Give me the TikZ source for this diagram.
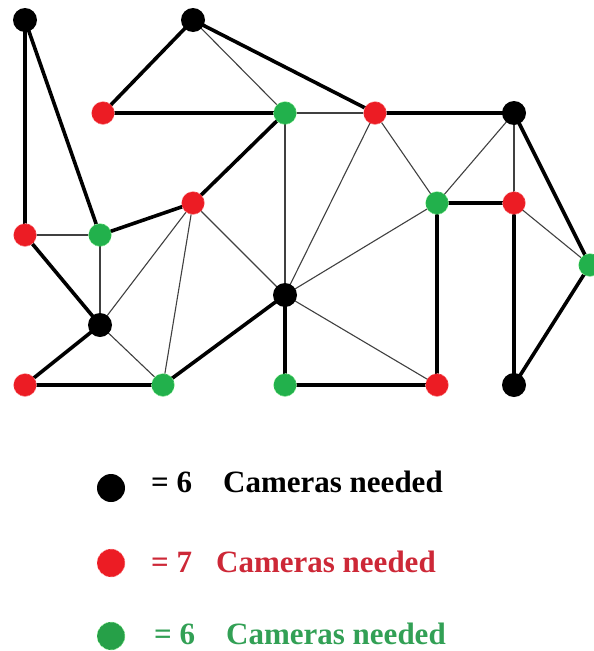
\documentclass[tikz,border=0pt]{standalone}
\usepackage{fontspec}
\setmainfont{Liberation Serif}
\begin{document}
\begin{tikzpicture}[x=1pt,y=-1pt,
  thickedge/.style={line width=3.6pt,black},
  thinedge/.style={line width=1.1pt,black!75},
  vb/.style={circle,fill=black,minimum size=24pt,inner sep=0pt},
  vr/.style={circle,fill=red!90!black,draw=white!70!red,densely dashed,line width=0.5pt,minimum size=23pt,inner sep=0pt},
  vg/.style={circle,fill=green!60!black!90!white,draw=white!70!green,densely dashed,line width=0.5pt,minimum size=23pt,inner sep=0pt},
  legtext/.style={font=\fontsize{31}{31}\selectfont\bfseries,anchor=base west,inner sep=0pt}]
\definecolor{myred}{RGB}{236,28,36}
\definecolor{mygreen}{RGB}{34,177,76}
\definecolor{legreen}{RGB}{38,160,72}
\definecolor{txtred}{RGB}{205,40,55}
\definecolor{txtgreen}{RGB}{50,160,85}
\useasboundingbox (0,0) rectangle (594,651);
% coordinates
\coordinate (B1) at (25,20);
\coordinate (B2) at (193,20);
\coordinate (B3) at (514,113);
\coordinate (B4) at (100,325);
\coordinate (B5) at (285,295);
\coordinate (B6) at (514,385);
\coordinate (R1) at (103,113);
\coordinate (R2) at (375,113);
\coordinate (R3) at (193,203);
\coordinate (R4) at (25,235);
\coordinate (R5) at (514,203);
\coordinate (R6) at (25,385);
\coordinate (R7) at (437,385);
\coordinate (G1) at (285,113);
\coordinate (G2) at (100,235);
\coordinate (G3) at (437,203);
\coordinate (G4) at (590,265);
\coordinate (G5) at (163,385);
\coordinate (G6) at (285,385);
% thin edges
\foreach \a/\b in {B2/G1,G1/R2,G1/B5,R2/B5,R2/G3,G3/B3,B3/R5,R5/G4,G3/B5,B5/R7,R3/B5,R3/B4,R3/G5,G2/B4,R4/G2,B4/G5}
  \draw[thinedge] (\a) -- (\b);
% thick edges
\foreach \a/\b in {B1/R4,B1/G2,B2/R1,B2/R2,R1/G1,G1/R3,R3/G2,R4/B4,B4/R6,R6/G5,G5/B5,B5/G6,G6/R7,G3/R7,G3/R5,R2/B3,B3/G4,G4/B6,R5/B6}
  \draw[thickedge] (\a) -- (\b);
% vertices
\foreach \n in {B1,B2,B3,B4,B5,B6} \node[vb] (n\n) at (\n) {};
\foreach \n in {R1,R2,R3,R4,R5,R6,R7} \node[vr,fill=myred] (n\n) at (\n) {};
\foreach \n in {G1,G2,G3,G4,G5,G6} \node[vg,fill=mygreen] (n\n) at (\n) {};
% legend
\node[vb,minimum size=28pt] (lb) at (111,488) {};
\node[vr,fill=myred,minimum size=28pt] (lr) at (111,563) {};
\node[vg,fill=legreen,minimum size=28pt] (lg) at (111,636) {};
\node[legtext] (eb) at (151,492) {= 6};
\node[legtext] (tb) at (223,492) {Cameras needed};
\node[legtext,text=txtred] (er) at (151,572) {= 7};
\node[legtext,text=txtred] (tr) at (216,572) {Cameras needed};
\node[legtext,text=txtgreen] (eg) at (154,644) {= 6};
\node[legtext,text=txtgreen] (tg) at (226,644) {Cameras needed};
\end{tikzpicture}
\end{document}
